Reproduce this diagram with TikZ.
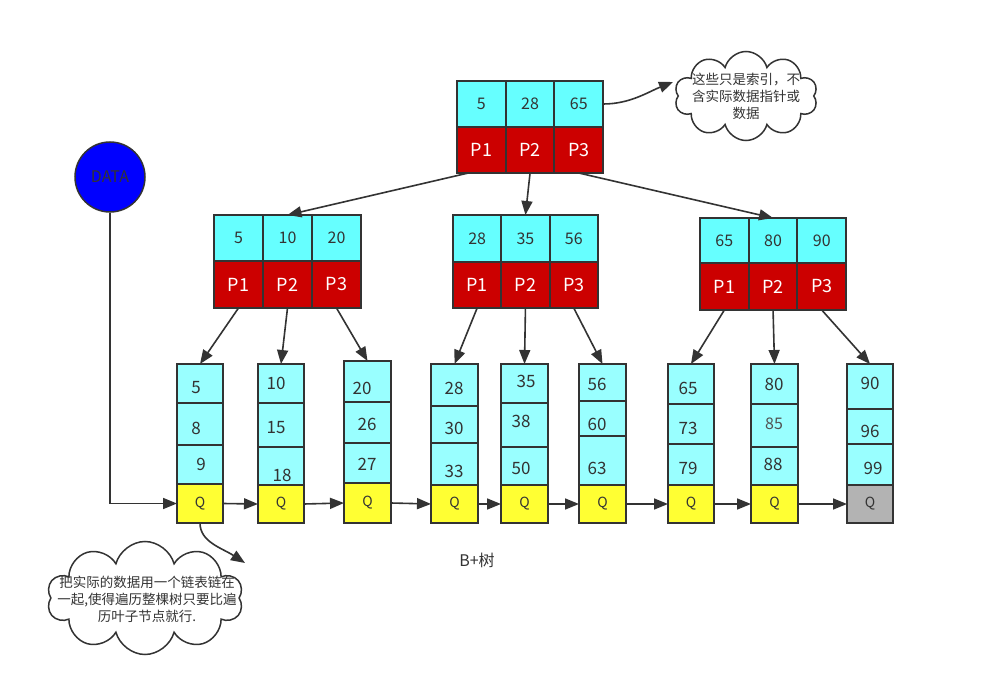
\documentclass[tikz,border=0pt]{standalone}
\usepackage{fontspec}
\setmainfont{Noto Sans CJK SC}
\usetikzlibrary{arrows.meta,shapes.symbols,calc}
\definecolor{bc}{HTML}{333333}
\definecolor{kcyan}{HTML}{66FFFF}
\definecolor{lcyan}{HTML}{99FFFF}
\definecolor{pred}{HTML}{CC0000}
\definecolor{qyel}{HTML}{FFFF33}
\definecolor{qgray}{HTML}{B3B3B3}
\definecolor{dblue}{HTML}{0000FF}
\newcommand\mkinner[9]{%
  \foreach \i/\k in {1/#7,2/#8,3/#9} {
    \node[kcell, minimum width=#6pt, minimum height={#4pt-#3pt}] (#1k\i) at ({#2+(\i-1)*#6},#3) {\k};
    \node[pcell, minimum width=#6pt, minimum height={#5pt-#4pt}] (#1p\i) at ({#2+(\i-1)*#6},#4) {P\i};
  }%
}
\newcommand\leafbox[9]{%
  \node[lcell, minimum width={#3pt-#2pt}, minimum height={#5pt-#4pt}] (#1a) at (#2,#4) {};
  \node[lcell, minimum width={#3pt-#2pt}, minimum height={#6pt-#5pt}] (#1b) at (#2,#5) {};
  \node[lcell, minimum width={#3pt-#2pt}, minimum height={#7pt-#6pt}] (#1c) at (#2,#6) {};
  \node[qcell, fill=#9, minimum width={#3pt-#2pt}, minimum height={#8pt-#7pt}] (#1q) at (#2,#7) {Q};
}
\begin{document}
\begin{tikzpicture}[x=1pt,y=-1pt,
  cellbase/.style={draw=bc, line width=2pt, inner sep=0pt, outer sep=0pt, anchor=north west},
  kcell/.style={cellbase, fill=kcyan, text=bc, font=\fontsize{16}{19}\selectfont},
  pcell/.style={cellbase, fill=pred, text=white, font=\fontsize{18}{21}\selectfont},
  lcell/.style={cellbase, fill=lcyan},
  qcell/.style={cellbase, text=bc, font=\fontsize{14}{17}\selectfont},
  ltext/.style={text=bc, inner sep=0pt, font=\fontsize{17}{20}\selectfont},
  arr/.style={draw=bc, line width=1.6pt, -{Triangle[length=14pt,width=11pt]}},
  cloudbox/.style={cloud, cloud puffs=10, cloud ignores aspect, draw=bc, line width=1.5pt, fill=white, inner sep=0pt},
  cloudtext/.style={text=bc, align=center, inner sep=0pt, font=\fontsize{13.5}{17}\selectfont},
]
\fill[white] (0,0) rectangle (985,687);
\useasboundingbox (0,0) rectangle (985,687);

% internal nodes
\mkinner{r}{457}{81}{127}{173}{48.7}{5}{28}{65}
\mkinner{a}{214}{215}{261}{308}{49}{5}{10}{20}
\mkinner{b}{453}{215}{262}{308}{48.3}{28}{35}{56}
\mkinner{c}{700}{218}{263}{310}{48.7}{65}{80}{90}

% leaves
\leafbox{l1}{177}{223}{364}{403}{445}{484}{523}{qyel}
\leafbox{l2}{258}{304}{364}{403}{447}{485}{523}{qyel}
\leafbox{l3}{344}{391}{361}{402}{443}{483}{523}{qyel}
\leafbox{l4}{431}{478}{364}{406}{443}{485}{523}{qyel}
\leafbox{l5}{501}{548}{364}{403}{447}{485}{523}{qyel}
\leafbox{l6}{579}{626}{364}{401}{436}{485}{523}{qyel}
\leafbox{l7}{668}{714}{364}{404}{444}{485}{523}{qyel}
\leafbox{l8}{751}{798}{364}{404}{447}{485}{523}{qyel}
\leafbox{l9}{847}{893}{364}{409}{444}{485}{523}{qgray}

% leaf texts
\node[ltext] (t1a) at (196,388) {5};
\node[ltext] (t1b) at (196,428) {8};
\node[ltext] (t1c) at (201,464) {9};
\node[ltext] (t2a) at (276,383) {10};
\node[ltext] (t2b) at (276,428) {15};
\node[ltext] (t2c) at (282,475) {18};
\node[ltext] (t3a) at (362,388) {20};
\node[ltext] (t3b) at (367,424) {26};
\node[ltext] (t3c) at (367,464) {27};
\node[ltext] (t4a) at (454,388) {28};
\node[ltext] (t4b) at (454,428) {30};
\node[ltext] (t4c) at (454,471) {33};
\node[ltext] (t5a) at (526,381) {35};
\node[ltext] (t5b) at (521,421) {38};
\node[ltext] (t5c) at (521,468) {50};
\node[ltext] (t6a) at (597,384) {56};
\node[ltext] (t6b) at (597,424) {60};
\node[ltext] (t6c) at (597,468) {63};
\node[ltext] (t7a) at (688,388) {65};
\node[ltext] (t7b) at (688,428) {73};
\node[ltext] (t7c) at (688,468) {79};
\node[ltext] (t8a) at (774,384) {80};
\node[ltext, text=bc!85, font=\fontsize{16}{19}\selectfont] (t8b) at (774,424) {85};
\node[ltext] (t8c) at (773,464) {88};
\node[ltext] (t9a) at (870,383) {90};
\node[ltext] (t9b) at (870,431) {96};
\node[ltext] (t9c) at (873,468) {99};

% root -> internal
\draw[arr] ($(rp1.south)+(-13,0)$) -- (ak2.north);
\draw[arr] (rp2.south) -- (bk2.north);
\draw[arr] (rp3.south) -- (ck2.north);

% internal -> leaves
\draw[arr] (ap1.south) -- (l1a.north);
\draw[arr] (ap2.south) -- (l2a.north);
\draw[arr] (ap3.south) -- (l3a.north);
\draw[arr] (bp1.south) -- (l4a.north);
\draw[arr] (bp2.south) -- (l5a.north);
\draw[arr] (bp3.south) -- (l6a.north);
\draw[arr] (cp1.south) -- (l7a.north);
\draw[arr] (cp2.south) -- (l8a.north);
\draw[arr] (cp3.south) -- (l9a.north);

% leaf chain
\draw[arr] (l1q.east) -- (l2q.west);
\draw[arr] (l2q.east) -- (l3q.west);
\draw[arr] (l3q.east) -- (l4q.west);
\draw[arr] (l4q.east) -- (l5q.west);
\draw[arr] (l5q.east) -- (l6q.west);
\draw[arr] (l6q.east) -- (l7q.west);
\draw[arr] (l7q.east) -- (l8q.west);
\draw[arr] (l8q.east) -- (l9q.west);

% DATA
\node[circle, draw=bc, line width=1.5pt, fill=dblue, minimum size=70pt, inner sep=0pt, text=bc, font=\fontsize{16}{19}\selectfont] (data) at (110,177) {DATA};
\draw[arr] (data.south) |- (l1q.west);

% clouds
\node[cloudbox, minimum width=143pt, minimum height=89pt] (cloud1) at (746,96) {};
\node[cloudtext] (cloud1t) at (746,96) {这些只是索引，不\\含实际数据指针或\\数据};
\coordinate (c1tip) at (673,82);
\draw[arr] (rk3.east) .. controls (630,104) and (648,92) .. (c1tip);

\node[cloudbox, minimum width=196pt, minimum height=113pt] (cloud2) at (145,598) {};
\node[cloudtext] (cloud2t) at (147,599) {把实际的数据用一个链表链在\\一起,使得遍历整棵树只要比遍\\历叶子节点就行.};
\coordinate (c2tip) at (245,563);
\draw[arr] (l1q.south) .. controls (200,542) and (222,548) .. (c2tip);

\node[text=bc, inner sep=0pt, font=\fontsize{16}{19}\selectfont] (title) at (477,560) {B+树};
\end{tikzpicture}
\end{document}
